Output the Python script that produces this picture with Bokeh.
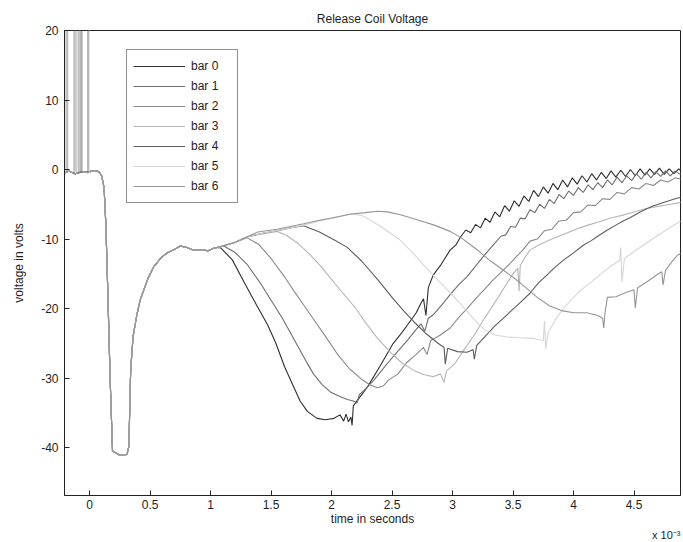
from bokeh.plotting import figure
from bokeh.models import (Range1d, FixedTicker, Legend, LegendItem, Title,
                          CustomJSTickFormatter, ColumnDataSource)
from bokeh.embed import file_html
from bokeh.resources import INLINE

# ---------------- data (time in ms, i.e. x 10^-3 s ; voltage in V) ----------------
series_names = ["bar 0", "bar 1", "bar 2", "bar 3", "bar 4", "bar 5", "bar 6"]
series_colors = ["#2e2e2e", "#6e6e6e", "#8a8a8a", "#b6b6b6", "#5c5c5c", "#d6d6d6", "#959595"]

# shared part of all traces (before the curves separate)
common_t = [-0.21, -0.17, -0.12, -0.06, 0.0, 0.04, 0.077, 0.10, 0.12, 0.135, 0.15, 0.17,
            0.19, 0.25, 0.31, 0.325, 0.34, 0.36, 0.39, 0.42, 0.48, 0.53, 0.59, 0.65,
            0.70, 0.75, 0.80, 0.86, 0.92, 0.98, 1.03]
common_v = [-0.5, -0.2, -0.6, -0.3, -0.3, -0.2, -0.3, -0.9, -2.6, -8.0, -17.0, -30.0,
            -40.5, -41.1, -41.0, -39.8, -28.8, -24.0, -21.0, -18.7, -15.8, -14.0, -12.7, -11.9,
            -11.5, -11.0, -11.2, -11.6, -11.5, -11.7, -11.3]

# switching spikes before t = 0 (clipped at the top of the axes)
spike_t = [-0.198, -0.185, -0.178, -0.128, -0.118, -0.105, -0.088, -0.080, -0.070,
           -0.060, -0.015, -0.008, -0.002]
spike_bar = [3, 0, 5, 1, 6, 2, 4, 3, 0, 6, 1, 2, 5]
spike_low = [-0.6, -0.4, -0.5, -0.7, -0.3, -0.5, -0.6, -0.4, -0.5, -0.3, -0.6, -0.4, -0.5]
spike_high = [25, 25, 25, 25, 25, 25, 25, 25, 25, 25, 25, 25, 25]

bar0 = [(1.08, -11.2), (1.18, -13.0), (1.28, -16.3), (1.38, -19.5), (1.47, -22.3), (1.54, -25.0),
        (1.61, -28.3), (1.68, -31.0), (1.74, -33.3), (1.80, -34.8), (1.88, -35.8), (1.95, -36.0),
        (2.02, -35.8), (2.07, -35.3), (2.10, -36.2), (2.12, -35.2), (2.14, -36.3), (2.16, -35.6),
        (2.17, -36.8), (2.18, -34.0), (2.24, -32.6), (2.30, -31.2), (2.40, -28.3), (2.51, -25.0),
        (2.58, -23.5), (2.63, -22.3), (2.70, -20.6), (2.74, -19.2), (2.76, -18.6), (2.78, -21.0),
        (2.80, -17.0), (2.84, -15.2), (2.90, -13.8), (2.98, -11.6), (3.03, -10.8), (3.07, -9.6),
        (3.11, -8.7), (3.15, -9.1), (3.19, -7.9), (3.23, -8.4), (3.27, -7.0), (3.31, -7.6),
        (3.35, -6.1), (3.39, -6.8), (3.43, -5.2), (3.47, -6.0), (3.51, -4.5), (3.55, -5.3),
        (3.59, -3.8), (3.63, -4.6), (3.67, -3.0), (3.71, -3.9), (3.75, -2.5), (3.79, -3.4),
        (3.83, -2.0), (3.87, -2.9), (3.91, -1.5), (3.95, -2.5), (3.99, -1.2), (4.03, -2.1),
        (4.07, -0.9), (4.11, -1.8), (4.15, -0.6), (4.19, -1.5), (4.23, -0.4), (4.27, -1.3),
        (4.31, -0.2), (4.35, -1.1), (4.39, -0.1), (4.43, -1.0), (4.47, 0.0), (4.51, -0.9),
        (4.55, 0.1), (4.59, -0.8), (4.63, 0.1), (4.67, -0.7), (4.71, 0.2), (4.75, -0.7),
        (4.79, 0.1), (4.83, -0.6), (4.87, 0.1), (4.90, -0.4)]

bar1 = [(1.08, -11.1), (1.11, -11.0), (1.20, -11.9), (1.30, -13.6), (1.41, -16.3), (1.50, -18.8),
        (1.59, -21.3), (1.66, -23.5), (1.72, -25.4), (1.79, -27.6), (1.85, -29.4), (1.92, -30.9),
        (1.99, -32.0), (2.06, -32.6), (2.13, -33.1), (2.18, -33.3), (2.21, -33.6), (2.23, -32.4),
        (2.28, -31.6), (2.35, -30.3), (2.42, -28.8), (2.49, -27.3), (2.56, -25.9), (2.63, -24.5),
        (2.70, -23.0), (2.74, -22.2), (2.77, -23.3), (2.80, -21.4), (2.84, -20.9), (2.91, -19.5),
        (2.98, -18.0), (3.05, -16.6), (3.12, -15.4), (3.19, -13.9), (3.26, -12.4), (3.33, -11.0),
        (3.40, -9.6), (3.44, -9.4), (3.48, -8.2), (3.52, -8.3), (3.56, -7.0), (3.60, -7.1),
        (3.64, -5.8), (3.68, -6.2), (3.72, -5.0), (3.76, -5.6), (3.80, -4.3), (3.84, -4.9),
        (3.88, -3.6), (3.92, -4.2), (3.96, -3.1), (4.00, -3.7), (4.04, -2.6), (4.08, -3.3),
        (4.12, -2.2), (4.16, -2.9), (4.20, -1.9), (4.24, -2.6), (4.28, -1.5), (4.32, -2.2),
        (4.36, -1.1), (4.40, -1.9), (4.44, -0.9), (4.48, -1.6), (4.52, -0.6), (4.56, -1.4),
        (4.60, -0.4), (4.64, -1.2), (4.68, -0.3), (4.72, -1.0), (4.76, -0.2), (4.80, -0.9),
        (4.84, -0.2), (4.88, -0.7), (4.90, -0.4)]

bar2 = [(1.08, -11.1), (1.20, -10.5), (1.30, -9.8), (1.40, -10.8), (1.50, -12.8), (1.61, -15.4),
        (1.69, -17.5), (1.77, -19.5), (1.85, -21.5), (1.95, -24.0), (2.05, -26.6), (2.15, -28.7),
        (2.25, -30.2), (2.32, -31.0), (2.38, -31.4), (2.43, -31.1), (2.47, -30.3), (2.55, -29.4),
        (2.62, -27.8), (2.70, -26.6), (2.76, -25.6), (2.79, -26.6), (2.82, -24.6), (2.90, -23.8),
        (2.98, -22.8), (3.05, -21.3), (3.12, -20.0), (3.19, -18.6), (3.26, -17.3), (3.33, -16.0),
        (3.40, -14.8), (3.47, -13.6), (3.53, -12.5), (3.58, -11.6), (3.64, -10.3), (3.70, -10.0),
        (3.76, -8.8), (3.82, -8.6), (3.88, -7.4), (3.94, -7.3), (4.00, -6.2), (4.06, -6.1),
        (4.12, -5.1), (4.18, -5.2), (4.24, -4.2), (4.30, -4.3), (4.36, -3.3), (4.42, -3.5),
        (4.48, -2.6), (4.54, -2.8), (4.60, -2.0), (4.66, -2.3), (4.72, -1.5), (4.78, -1.8),
        (4.84, -1.2), (4.90, -1.4)]

bar3 = [(1.08, -11.1), (1.20, -10.5), (1.30, -9.7), (1.42, -9.3), (1.55, -8.9), (1.63, -9.5),
        (1.72, -10.6), (1.82, -12.2), (1.91, -13.9), (1.99, -15.6), (2.07, -17.3), (2.13, -18.5),
        (2.20, -20.0), (2.28, -22.0), (2.38, -24.3), (2.48, -26.2), (2.58, -27.8), (2.68, -28.9),
        (2.76, -29.5), (2.84, -29.8), (2.90, -29.4), (2.93, -30.6), (2.95, -29.0), (3.02, -27.9),
        (3.10, -25.8), (3.18, -23.8), (3.26, -21.5), (3.34, -19.4), (3.42, -17.2), (3.50, -15.0),
        (3.54, -14.2), (3.55, -17.5), (3.56, -13.8), (3.60, -12.6), (3.64, -11.6), (3.72, -10.8),
        (3.82, -10.0), (3.92, -9.3), (4.02, -8.6), (4.12, -8.0), (4.20, -7.6), (4.30, -7.0),
        (4.40, -6.6), (4.50, -6.1), (4.60, -5.6), (4.70, -5.3), (4.80, -5.0), (4.90, -4.7)]

bar4 = [(1.08, -11.1), (1.20, -10.5), (1.30, -9.7), (1.42, -9.2), (1.55, -8.8), (1.66, -8.4),
        (1.77, -8.1), (1.90, -9.0), (2.02, -10.1), (2.13, -11.2), (2.25, -13.2), (2.38, -15.8),
        (2.50, -18.4), (2.60, -20.4), (2.68, -21.9), (2.78, -23.6), (2.88, -25.0), (2.93, -25.6),
        (2.94, -28.0), (2.96, -25.7), (3.04, -26.2), (3.12, -26.3), (3.17, -25.9), (3.18, -27.3),
        (3.20, -25.3), (3.27, -24.0), (3.35, -22.5), (3.45, -20.9), (3.55, -19.3), (3.64, -17.8),
        (3.71, -16.3), (3.78, -15.2), (3.85, -14.0), (3.92, -13.0), (4.00, -12.0), (4.08, -10.9),
        (4.14, -10.3), (4.20, -9.6), (4.28, -8.7), (4.35, -8.0), (4.41, -7.4), (4.47, -6.9),
        (4.55, -6.1), (4.65, -5.3), (4.75, -4.7), (4.86, -4.1), (4.90, -4.0)]

bar5 = [(1.08, -11.1), (1.20, -10.5), (1.30, -9.7), (1.42, -9.2), (1.55, -8.8), (1.66, -8.4),
        (1.77, -8.0), (1.90, -7.4), (2.02, -7.0), (2.16, -6.4), (2.25, -6.6), (2.35, -7.6),
        (2.45, -8.7), (2.57, -10.2), (2.66, -11.8), (2.75, -13.5), (2.86, -15.6), (2.98, -17.7),
        (3.10, -20.0), (3.18, -21.6), (3.26, -23.0), (3.35, -23.8), (3.45, -24.1), (3.55, -24.2),
        (3.67, -24.3), (3.75, -24.6), (3.76, -21.8), (3.77, -25.8), (3.79, -23.5), (3.85, -21.6),
        (3.92, -19.9), (4.05, -17.5), (4.20, -15.4), (4.30, -14.0), (4.38, -13.1), (4.39, -11.2),
        (4.40, -16.2), (4.42, -12.8), (4.50, -11.8), (4.61, -10.5), (4.72, -9.2), (4.80, -8.3),
        (4.90, -7.3)]

bar6 = [(1.08, -11.1), (1.20, -10.5), (1.30, -9.7), (1.39, -9.0), (1.55, -8.6), (1.66, -8.2),
        (1.77, -7.8), (1.90, -7.3), (2.02, -6.9), (2.16, -6.4), (2.28, -6.2), (2.38, -6.0),
        (2.46, -6.1), (2.57, -6.5), (2.70, -7.2), (2.85, -8.0), (2.98, -8.9), (3.07, -9.8),
        (3.20, -11.5), (3.31, -13.1), (3.42, -14.5), (3.53, -15.9), (3.62, -17.2), (3.70, -18.4),
        (3.80, -19.6), (3.90, -20.3), (4.00, -20.6), (4.11, -20.6), (4.20, -21.0), (4.24, -21.4),
        (4.25, -22.8), (4.26, -20.6), (4.28, -18.4), (4.35, -18.3), (4.45, -17.6), (4.50, -17.3),
        (4.51, -19.9), (4.53, -17.0), (4.62, -16.0), (4.70, -15.0), (4.73, -14.7), (4.74, -16.6),
        (4.76, -14.5), (4.82, -13.1), (4.86, -12.3), (4.90, -12.0)]

tails = [bar0, bar1, bar2, bar3, bar4, bar5, bar6]

x_ticks = [0, 0.5, 1, 1.5, 2, 2.5, 3, 3.5, 4, 4.5]
y_ticks = [-40, -30, -20, -10, 0, 10, 20]
x_exponent_text = "x 10\u207b\u00b3"

FONT = "Liberation Sans"
TXT = "#1e1e1e"

# ---------------- figure ----------------
p = figure(width=683, height=542, output_backend="svg", toolbar_location=None,
           x_range=Range1d(-0.207, 4.884), y_range=Range1d(-46.9, 20),
           min_border_left=64, min_border_right=3, min_border_top=30, min_border_bottom=45)
p.background_fill_color = "white"
p.border_fill_color = "white"
p.outline_line_color = "#222222"
p.outline_line_width = 1
p.xgrid.visible = False
p.ygrid.visible = False

p.title.text = "Release Coil Voltage"
p.title.align = "center"
p.title.text_font = FONT
p.title.text_font_size = "12px"
p.title.text_font_style = "normal"
p.title.text_color = TXT

fmt = CustomJSTickFormatter(code="return String(tick);")
for ax, ticks in ((p.xaxis[0], x_ticks), (p.yaxis[0], y_ticks)):
    ax.ticker = FixedTicker(ticks=ticks)
    ax.formatter = fmt
    ax.major_tick_in = 5
    ax.major_tick_out = 0
    ax.minor_tick_in = 0
    ax.minor_tick_out = 0
    ax.axis_line_color = "#222222"
    ax.major_tick_line_color = "#222222"
    ax.major_label_text_font = FONT
    ax.major_label_text_font_size = "12px"
    ax.major_label_text_color = TXT
    ax.axis_label_text_font = FONT
    ax.axis_label_text_font_size = "12px"
    ax.axis_label_text_font_style = "normal"
    ax.axis_label_text_color = TXT
p.xaxis.axis_label = "time in seconds"
p.yaxis.axis_label = "voltage in volts"
p.xaxis.major_label_standoff = 4
p.xaxis.axis_label_standoff = 0
p.yaxis.major_label_standoff = 6
p.yaxis.axis_label_standoff = 12

# exponent of the time axis, at the lower right corner
exp_title = Title(text=x_exponent_text, align="right", vertical_align="top",
                  text_font=FONT, text_font_size="11px", text_font_style="normal",
                  text_color=TXT, standoff=0, offset=0)
p.add_layout(exp_title, "below")

# ---------------- traces ----------------
renderers = []
for k, tail in enumerate(tails):
    t = common_t + [a for a, b in tail]
    v = common_v + [b for a, b in tail]
    r = p.line(t, v, line_color=series_colors[k], line_width=1.1)
    renderers.append(r)

spike_src = ColumnDataSource(dict(
    x=spike_t, y0=spike_low, y1=spike_high,
    c=[series_colors[b] for b in spike_bar]))
p.segment(x0="x", y0="y0", x1="x", y1="y1", source=spike_src, line_color="c",
          line_width=1.2, line_alpha=0.55)

legend = Legend(items=[LegendItem(label=n, renderers=[r]) for n, r in zip(series_names, renderers)],
                location=(62, 292))
legend.label_text_font = FONT
legend.label_text_font_size = "12px"
legend.label_text_color = TXT
legend.glyph_width = 52
legend.glyph_height = 20
legend.label_height = 20
legend.label_width = 40
legend.label_standoff = 6
legend.spacing = 0
legend.padding = 6
legend.margin = 0
legend.border_line_color = "#222222"
legend.border_line_width = 1
legend.background_fill_color = "white"
legend.background_fill_alpha = 1
p.add_layout(legend)

open("out.html", "w").write(file_html(p, INLINE))
